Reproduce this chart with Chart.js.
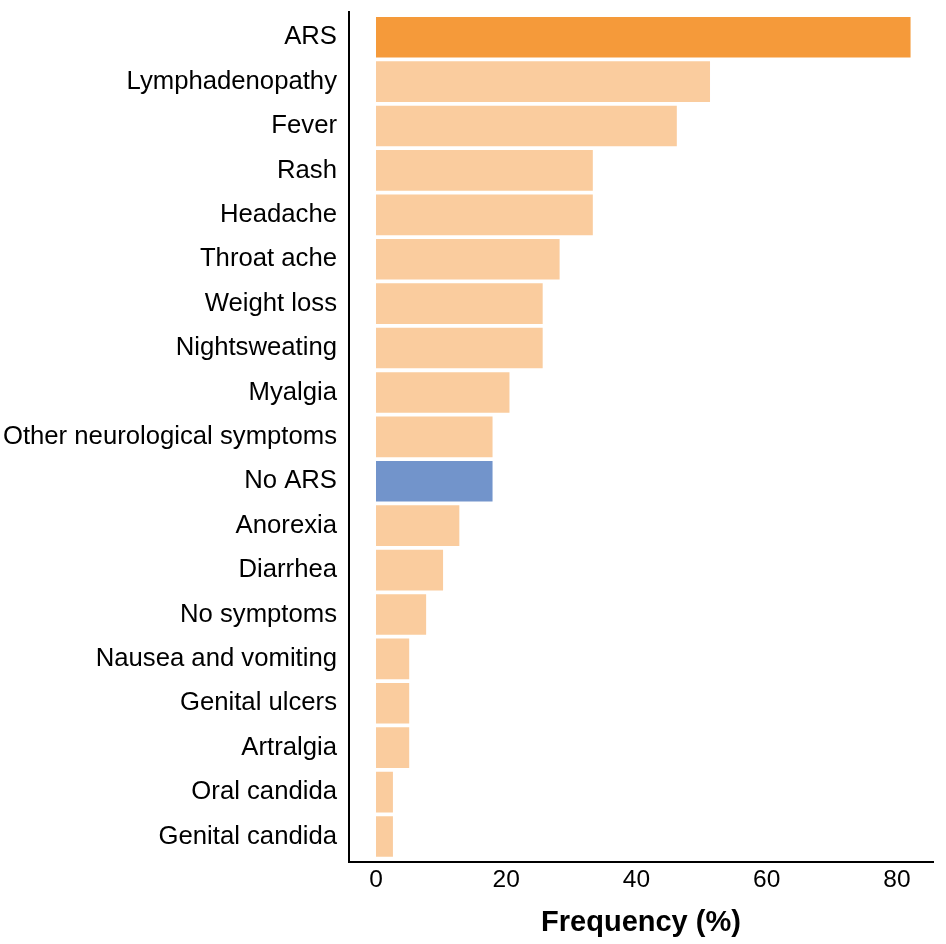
<!DOCTYPE html>
<html lang="en">
<head>
<meta charset="UTF-8">
<title>Symptom frequency</title>
<script src="https://cdn.jsdelivr.net/npm/chart.js"></script>
<style>
  html, body {
    margin: 0;
    padding: 0;
    background: #fff;
  }
  #chart {
    display: block;
  }
</style>
</head>
<body>

<canvas id="chart" width="946" height="944"></canvas>

<script>
// symptoms, top to bottom
const symptoms = [
  "ARS", "Lymphadenopathy", "Fever", "Rash", "Headache", "Throat ache",
  "Weight loss", "Nightsweating", "Myalgia", "Other neurological symptoms",
  "No ARS", "Anorexia", "Diarrhea", "No symptoms", "Nausea and vomiting",
  "Genital ulcers", "Artralgia", "Oral candida", "Genital candida"
];
// frequency in %
const frequency = [
  82.1, 51.3, 46.2, 33.3, 33.3, 28.2,
  25.6, 25.6, 20.5, 17.9,
  17.9, 12.8, 10.3, 7.7, 5.1,
  5.1, 5.1, 2.6, 2.6
];
const xTicks = [0, 20, 40, 60, 80];

const barColors = symptoms.map(s => {
  if (s === "ARS") return "#f59a3a";
  if (s === "No ARS") return "#7294cb";
  return "#facc9e";
});

// plain black axis lines, a little longer than the plot area like the original
const axisLines = {
  id: "axisLines",
  afterDraw(chart) {
    const ctx = chart.ctx;
    const a = chart.chartArea;
    ctx.save();
    ctx.strokeStyle = "#000";
    ctx.lineWidth = 2;
    ctx.beginPath();
    ctx.moveTo(a.left + 1, a.top - 4);
    ctx.lineTo(a.left + 1, a.bottom + 4.3);
    ctx.moveTo(a.left, a.bottom + 3.3);
    ctx.lineTo(a.right, a.bottom + 3.3);
    ctx.stroke();
    ctx.restore();
  }
};

const font = "'Liberation Sans', Arial, sans-serif";

new Chart(document.getElementById("chart"), {
  type: "bar",
  data: {
    labels: symptoms,
    datasets: [{
      data: frequency,
      backgroundColor: barColors,
      borderWidth: 0,
      categoryPercentage: 1,
      barPercentage: 0.915
    }]
  },
  options: {
    indexAxis: "y",
    responsive: false,
    animation: false,
    devicePixelRatio: 1,
    layout: { padding: { top: 15, right: 12, bottom: 0, left: 0 } },
    plugins: {
      legend: { display: false },
      tooltip: { enabled: false }
    },
    scales: {
      x: {
        type: "linear",
        min: -4.3,
        max: 85.7,
        afterBuildTicks: scale => { scale.ticks = xTicks.map(v => ({ value: v })); },
        afterFit: scale => {
          scale.height = 85.3;
          scale.paddingLeft = 0;
          scale.paddingRight = 0;
        },
        grid: { display: false, drawTicks: false },
        border: { display: false },
        ticks: {
          padding: 7,
          color: "#000",
          font: { family: font, size: 24.5 }
        },
        title: {
          display: true,
          text: "Frequency (%)",
          color: "#000",
          font: { family: font, size: 29, weight: "bold" },
          padding: { top: 0, bottom: 4 }
        }
      },
      y: {
        afterFit: scale => {
          scale.width = 348;
          scale.paddingTop = 0;
          scale.paddingBottom = 0;
        },
        grid: { display: false, drawTicks: false },
        border: { display: false },
        ticks: {
          padding: 11,
          color: "#000",
          font: { family: font, size: 25.7 },
          autoSkip: false
        }
      }
    }
  },
  plugins: [axisLines]
});
</script>

</body>
</html>
